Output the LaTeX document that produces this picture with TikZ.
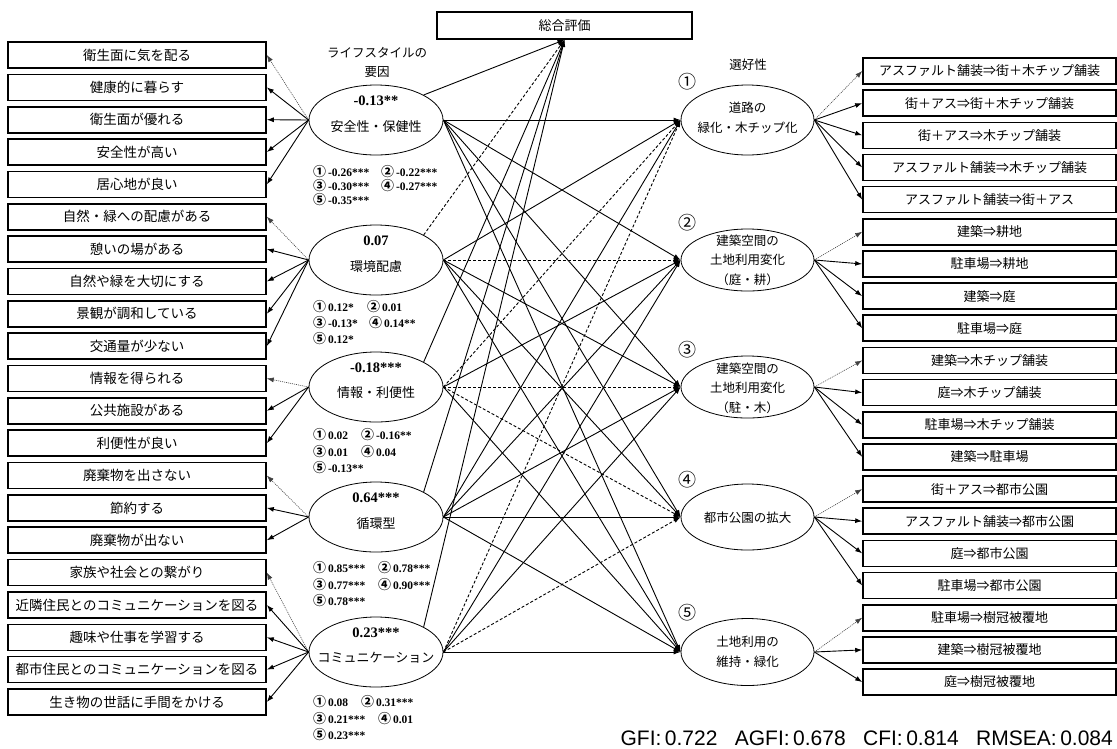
\documentclass[tikz,border=0pt]{standalone}
\usepackage{fontspec}
\setmainfont{Liberation Serif}
\newfontfamily\jp{Noto Sans CJK JP}
\newfontfamily\arl{Liberation Sans}
\usetikzlibrary{arrows.meta,shapes.geometric}
\newcommand\circn[1]{{\jp\fontsize{13}{12}\selectfont #1}}
\begin{document}
\begin{tikzpicture}[x=1pt,y=-1pt,
 lbox/.style={draw,line width=1.6pt,minimum width=258pt,minimum height=26pt,inner sep=0pt,font=\jp\fontsize{13.5}{14}\selectfont},
 rbox/.style={draw,line width=1.6pt,minimum width=253pt,minimum height=26pt,inner sep=0pt,font=\jp\fontsize{13}{14}\selectfont},
 ell/.style={draw,ellipse,line width=0.8pt,minimum width=134pt,minimum height=70pt,inner sep=0pt},
 con/.style={line width=0.9pt,-{Latex[length=7pt,width=5pt]}},
 dsh/.style={con,dash pattern=on 3pt off 2pt},
 dot/.style={con,draw=black!75,line width=0.6pt,dash pattern=on 1pt off 1pt},
 jt/.style={font=\jp\fontsize{13}{19.5}\selectfont,align=center,inner sep=0pt},
 num/.style={font=\bfseries\fontsize{14.5}{14}\selectfont,inner sep=0pt},
 cf/.style={font=\bfseries\fontsize{11.5}{12}\selectfont,anchor=west,inner sep=0pt},
 cnum/.style={font=\jp\fontsize{18}{18}\selectfont,inner sep=0pt},
]
\useasboundingbox[fill=white] (0,0) rectangle (1117,748);

% left observed variables
\foreach [count=\i] \t in {衛生面に気を配る,健康的に暮らす,衛生面が優れる,安全性が高い,居心地が良い,自然・緑への配慮がある,憩いの場がある,自然や緑を大切にする,景観が調和している,交通量が少ない,情報を得られる,公共施設がある,利便性が良い,廃棄物を出さない,節約する,廃棄物が出ない,家族や社会との繋がり,近隣住民とのコミュニケーションを図る,趣味や仕事を学習する,都市住民とのコミュニケーションを図る,生き物の世話に手間をかける}
  \node[lbox] (lb\i) at (137,{55+32.35*(\i-1)}) {\t};

% right observed variables
\foreach [count=\i] \t in {アスファルト舗装⇒街＋木チップ舗装,街＋アス⇒街＋木チップ舗装,街＋アス⇒木チップ舗装,アスファルト舗装⇒木チップ舗装,アスファルト舗装⇒街＋アス,建築⇒耕地,駐車場⇒耕地,建築⇒庭,駐車場⇒庭,建築⇒木チップ舗装,庭⇒木チップ舗装,駐車場⇒木チップ舗装,建築⇒駐車場,街＋アス⇒都市公園,アスファルト舗装⇒都市公園,庭⇒都市公園,駐車場⇒都市公園,駐車場⇒樹冠被覆地,建築⇒樹冠被覆地,庭⇒樹冠被覆地}
  \node[rbox] (rb\i) at (989.5,{71+32.16*(\i-1)}) {\t};

% top box
\node[draw,line width=1.6pt,minimum width=255pt,minimum height=27pt,inner sep=0pt,font=\jp\fontsize{13}{14}\selectfont] (top) at (564.5,25.5) {総合評価};

% headings
\node[jt,font=\jp\fontsize{12.5}{19}\selectfont] (head1) at (377,62) {ライフスタイルの\\要因};
\node[jt,font=\jp\fontsize{12.5}{14}\selectfont] (head2) at (748,65) {選好性};

% left latent ellipses
\node[ell] (L1) at (376,120) {};
\node[ell] (L2) at (376,260) {};
\node[ell] (L3) at (376,387) {};
\node[ell] (L4) at (376,517) {};
\node[ell] (L5) at (376,652) {};
\node[num] (L1n) at (376,101) {-0.13**};
\node[num] (L2n) at (376,241) {0.07};
\node[num] (L3n) at (376,368) {-0.18***};
\node[num] (L4n) at (376,498) {0.64***};
\node[num] (L5n) at (376,633) {0.23***};
\node[jt] (L1t) at (376,127) {安全性・保健性};
\node[jt] (L2t) at (376,267) {環境配慮};
\node[jt] (L3t) at (376,393) {情報・利便性};
\node[jt] (L4t) at (376,524) {循環型};
\node[jt] (L5t) at (376,658) {コミュニケーション};

% right latent ellipses
\node[ell,minimum width=133pt,minimum height=70pt] (R1) at (747.5,120) {};
\node[ell,minimum width=133pt,minimum height=62pt] (R2) at (747.5,260) {};
\node[ell,minimum width=133pt,minimum height=62pt] (R3) at (747.5,387) {};
\node[ell,minimum width=133pt,minimum height=66pt] (R4) at (747.5,517) {};
\node[ell,minimum width=133pt,minimum height=67pt] (R5) at (747.5,652) {};
\node[jt,font=\jp\fontsize{12.5}{20}\selectfont] (R1t) at (747.5,118) {道路の\\緑化・木チップ化};
\node[jt,font=\jp\fontsize{12.5}{19.5}\selectfont] (R2t) at (747.5,260) {建築空間の\\土地利用変化\\（庭・耕）};
\node[jt,font=\jp\fontsize{12.5}{19.5}\selectfont] (R3t) at (747.5,388) {建築空間の\\土地利用変化\\（駐・木）};
\node[jt,font=\jp\fontsize{12.5}{19.5}\selectfont] (R4t) at (747.5,518) {都市公園の拡大};
\node[jt,font=\jp\fontsize{12.5}{20}\selectfont] (R5t) at (747.5,652) {土地利用の\\維持・緑化};
\node[cnum] (c1) at (687,82) {①};
\node[cnum] (c2) at (687,223) {②};
\node[cnum] (c3) at (687,350) {③};
\node[cnum] (c4) at (687,480) {④};
\node[cnum] (c5) at (687,613) {⑤};

% coefficient blocks
\node[cf] (k11) at (313,172) {\circn{①}\,-0.26***};
\node[cf] (k12) at (381,172) {\circn{②}\,-0.22***};
\node[cf] (k13) at (313,186) {\circn{③}\,-0.30***};
\node[cf] (k14) at (381,186) {\circn{④}\,-0.27***};
\node[cf] (k15) at (313,200) {\circn{⑤}\,-0.35***};
\node[cf] (k21) at (313,307) {\circn{①}\,0.12*};
\node[cf] (k22) at (367,307) {\circn{②}\,0.01};
\node[cf] (k23) at (313,323) {\circn{③}\,-0.13*};
\node[cf] (k24) at (369,323) {\circn{④}\,0.14**};
\node[cf] (k25) at (313,339) {\circn{⑤}\,0.12*};
\node[cf] (k31) at (313,435) {\circn{①}\,0.02};
\node[cf] (k32) at (361,435) {\circn{②}\,-0.16**};
\node[cf] (k33) at (313,452) {\circn{③}\,0.01};
\node[cf] (k34) at (361,452) {\circn{④}\,0.04};
\node[cf] (k35) at (313,468) {\circn{⑤}\,-0.13**};
\node[cf] (k41) at (313,568) {\circn{①}\,0.85***};
\node[cf] (k42) at (378,568) {\circn{②}\,0.78***};
\node[cf] (k43) at (313,585) {\circn{③}\,0.77***};
\node[cf] (k44) at (378,585) {\circn{④}\,0.90***};
\node[cf] (k45) at (313,601) {\circn{⑤}\,0.78***};
\node[cf] (k51) at (313,702) {\circn{①}\,0.08};
\node[cf] (k52) at (361,702) {\circn{②}\,0.31***};
\node[cf] (k53) at (313,719) {\circn{③}\,0.21***};
\node[cf] (k54) at (378,719) {\circn{④}\,0.01};
\node[cf] (k55) at (313,735) {\circn{⑤}\,0.23***};

% fit indices
\node[anchor=base east,inner sep=0pt,font=\arl\fontsize{21}{21}\selectfont] (fit) at (1113,745) {GFI:\,0.722\hspace{0.55em} AGFI:\,0.678\hspace{0.55em} CFI:\,0.814\hspace{0.55em} RMSEA:\,0.084};

% left measurement arrows
\foreach \e/\a/\b in {1/1/5,2/6/10,3/11/13,4/14/16,5/17/21}{
  \draw[dot] (L\e.west) -- (lb\a.east);
  \pgfmathtruncatemacro\s{\a+1}
  \foreach \k in {\s,...,\b} \draw[con] (L\e.west) -- (lb\k.east);
}
% right measurement arrows
\foreach \e/\a/\b in {1/1/5,2/6/9,3/10/13,4/14/17,5/18/20}{
  \draw[dot] (R\e.east) -- (rb\a.west);
  \pgfmathtruncatemacro\s{\a+1}
  \foreach \k in {\s,...,\b} \draw[con] (R\e.east) -- (rb\k.west);
}
% structural paths to overall evaluation
\foreach \i/\s in {1/con,2/dsh,3/con,4/con,5/con}
  \draw[\s] (L\i.north east) -- (top.south);
% structural paths left -> right
\foreach \i/\j/\s in {1/1/con,1/2/con,1/3/con,1/4/con,1/5/con,
  2/1/con,2/2/dsh,2/3/con,2/4/con,2/5/con,
  3/1/dsh,3/2/con,3/3/dsh,3/4/dsh,3/5/con,
  4/1/con,4/2/con,4/3/con,4/4/con,4/5/con,
  5/1/dsh,5/2/con,5/3/con,5/4/dsh,5/5/con}
  \draw[\s] (L\i.east) -- (R\j.west);
\end{tikzpicture}
\end{document}
